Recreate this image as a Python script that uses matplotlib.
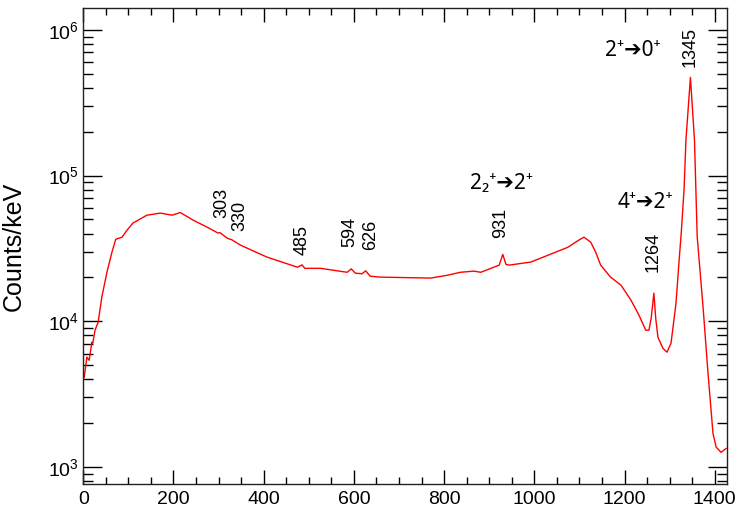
import numpy as np
import matplotlib
matplotlib.use("Agg")
import matplotlib.pyplot as plt
from matplotlib.ticker import MultipleLocator, LogLocator

plt.rcParams['font.family'] = ['Liberation Sans', 'DejaVu Sans']
plt.rcParams['mathtext.default'] = 'regular'

# spectrum (energy in keV, counts/keV)
energy = [2, 8, 13, 19, 21, 26, 33, 41, 52, 63, 72, 86, 97, 110, 141, 171, 197, 215,
          244, 275, 299, 303, 308, 319, 330, 334, 348, 363, 407, 475, 485, 491, 526,
          585, 594, 603, 618, 626, 636, 659, 770, 807, 836, 866, 881, 910, 922, 930,
          937, 944, 992, 1030, 1074, 1098, 1110, 1125, 1136, 1147, 1169, 1192, 1214,
          1232, 1247, 1254, 1259, 1265, 1269, 1274, 1285, 1294, 1303, 1314, 1320, 1326,
          1332, 1336, 1346, 1355, 1361, 1374, 1385, 1396, 1403, 1414, 1425]
counts = [4130, 5680, 5400, 7180, 7050, 8690, 9860, 14600, 21400, 29400, 36600, 37800,
          42200, 47200, 53500, 55300, 53500, 55800, 49400, 44200, 40300, 40600, 39500,
          37200, 36200, 35500, 33400, 31800, 27600, 23500, 24400, 23100, 23100, 21700,
          22900, 21400, 21200, 22200, 20400, 20100, 19800, 20700, 21700, 22100, 21700,
          23500, 24300, 28800, 24600, 24300, 25500, 28400, 32200, 36000, 37800, 34900,
          29800, 24300, 20100, 17700, 14000, 11000, 8690, 8690, 10500, 15600, 10500,
          7760, 6530, 6140, 7080, 13300, 24000, 42000, 81700, 175000, 472000, 175000,
          38000, 12500, 4400, 1700, 1370, 1260, 1340]

# peak labels: text, x, y (rotated)
peak_text = ["303", "330", "485", "594", "626", "931", "1264", "1345"]
peak_x = [307, 348, 485, 591, 636, 925, 1264, 1346]
peak_y = [64700, 52500, 36000, 40900, 39000, 47500, 29900, 769000]

# transition labels
trans_text = ["2\u207a\u27940\u207a", "4\u207a\u27942\u207a", "2\u2082\u207a\u27942\u207a"]
trans_x = [1219, 1247, 928]
trans_y = [726000, 65800, 88900]

fig = plt.figure(figsize=(7.37, 5.12), dpi=100)
ax = fig.add_axes([0.113, 0.054, 0.874, 0.930])

ax.plot(energy, counts, color='#ff0000', lw=1.0)
ax.set_yscale('log')
ax.set_xlim(0, 1428)
ax.set_ylim(760, 1.41e6)

ax.xaxis.set_major_locator(MultipleLocator(200))
ax.xaxis.set_minor_locator(MultipleLocator(50))
ax.yaxis.set_major_locator(LogLocator(base=10))
ax.yaxis.set_minor_locator(LogLocator(base=10, subs=np.arange(2, 10)))

ax.tick_params(axis='x', which='major', direction='in', length=10, width=1, top=True, labelsize=14, pad=5)
ax.tick_params(axis='x', which='minor', direction='in', length=5, width=1, top=True)
ax.tick_params(axis='y', which='major', direction='in', length=14, width=1, right=True, labelsize=14, pad=3)
ax.tick_params(axis='y', which='minor', direction='in', length=7, width=1, right=True)

for s in ax.spines.values():
    s.set_linewidth(1.0)
    s.set_color('#222222')

ax.set_ylabel("Counts/keV", fontsize=18)
ax.yaxis.set_label_coords(-0.09, 0.5)

for t, x, y in zip(peak_text, peak_x, peak_y):
    ax.text(x, y, t, rotation=90, ha='center', va='center', fontsize=13)

for t, x, y in zip(trans_text, trans_x, trans_y):
    ax.text(x, y, t, ha='center', va='center', fontsize=15,
            family=['Noto Sans', 'DejaVu Sans'])

fig.savefig("out.png", dpi=100)
